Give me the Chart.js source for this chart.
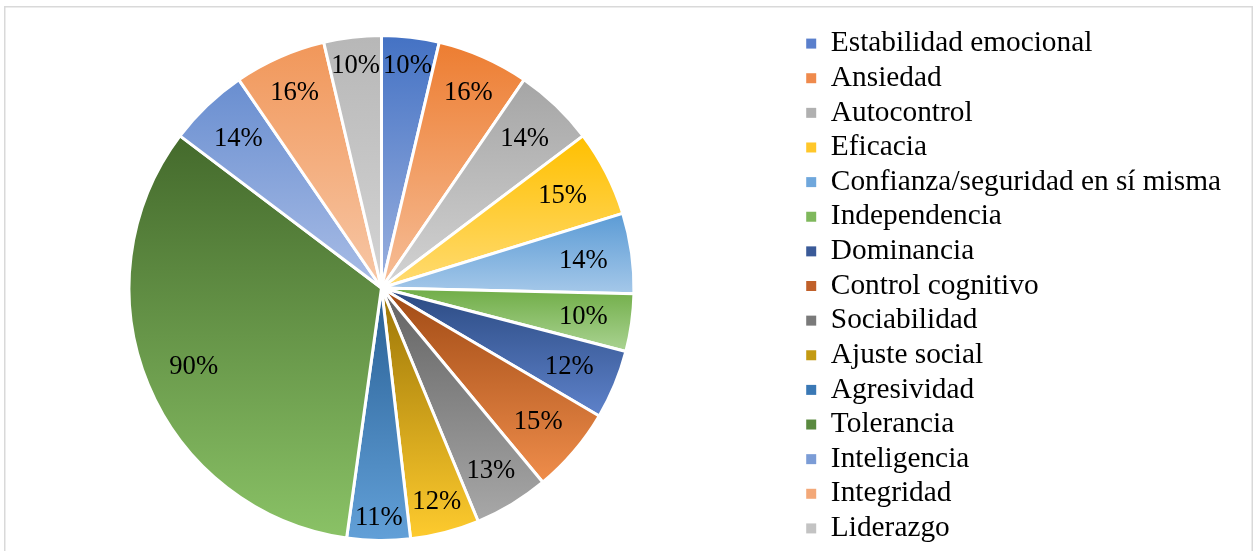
<!DOCTYPE html>
<html>
<head>
<meta charset="utf-8">
<script src="https://cdn.jsdelivr.net/npm/chart.js@4/dist/chart.umd.min.js"></script>
<style>
  html, body { margin: 0; padding: 0; background: #fff; }
  canvas { display: block; }
</style>
</head>
<body>
<canvas id="c" width="1253" height="551"></canvas>
<script>
// ---- data ----
const categories = [
  'Estabilidad emocional', 'Ansiedad', 'Autocontrol', 'Eficacia',
  'Confianza/seguridad en sí misma', 'Independencia', 'Dominancia',
  'Control cognitivo', 'Sociabilidad', 'Ajuste social', 'Agresividad',
  'Tolerancia', 'Inteligencia', 'Integridad', 'Liderazgo'
];
const percentages = [10, 16, 14, 15, 14, 10, 12, 15, 13, 12, 11, 90, 14, 16, 10];

// ---- colours (gradient top -> bottom, plus a mid tone) ----
const topColors = ['#4472C4', '#ED7D31', '#A5A5A5', '#FFC000', '#5B9BD5', '#70AD47', '#2B4A82',
  '#A04A14', '#626262', '#9A7406', '#285F94', '#446A2C', '#698ED0', '#F1975A', '#B7B7B7'];
const bottomColors = ['#9BB1DF', '#F6BE98', '#D3D3D3', '#FFDB72', '#A5C8E9', '#AAD392', '#5E82CA',
  '#EF8D4B', '#A8A8A8', '#FECB2E', '#62A0D8', '#8AC266', '#A9BDE6', '#F7C7A6', '#D4D4D4'];
const midColors = ['#5A7FCC', '#EF8A4C', '#B0B0B0', '#FFC72A', '#6FA7DC', '#7FB85C', '#3A5A98',
  '#C0602A', '#7A7A7A', '#C39A12', '#3A78B5', '#5A8A40', '#7B9CD6', '#F3A878', '#C3C3C3'];

const FONT = 'Liberation Serif, Times New Roman, serif';
const LABEL_SIZE = 26.67;
const LEGEND_SIZE = 29.33;

// frame around chart
const framePlugin = {
  id: 'frame',
  beforeDraw(chart) {
    const ctx = chart.ctx;
    ctx.save();
    ctx.strokeStyle = '#D9D9D9';
    ctx.lineWidth = 1.5;
    ctx.strokeRect(4.75, 6.75, 1247.5, 600);
    ctx.restore();
  }
};

// place the pie area (chart area) to the left of the legend
const pieAreaPlugin = {
  id: 'pieArea',
  afterLayout(chart) {
    const cx = 381.5, cy = 288, size = 508;
    Object.assign(chart.chartArea, {
      left: cx - size / 2, right: cx + size / 2,
      top: cy - size / 2, bottom: cy + size / 2,
      width: size, height: size
    });
  }
};

// per-slice vertical gradient spanning each slice's own bounding box
const gradientPlugin = {
  id: 'sliceGradient',
  beforeDatasetsDraw(chart) {
    const ctx = chart.ctx;
    const meta = chart.getDatasetMeta(0);
    meta.data.forEach((arc, i) => {
      const p = arc.getProps(['x', 'y', 'startAngle', 'endAngle', 'outerRadius'], true);
      let minY = p.y, maxY = p.y;
      const steps = 64;
      for (let k = 0; k <= steps; k++) {
        const a = p.startAngle + (p.endAngle - p.startAngle) * k / steps;
        const y = p.y + Math.sin(a) * p.outerRadius;
        minY = Math.min(minY, y);
        maxY = Math.max(maxY, y);
      }
      const g = ctx.createLinearGradient(0, minY, 0, maxY);
      g.addColorStop(0, topColors[i]);
      g.addColorStop(1, bottomColors[i]);
      arc.options.backgroundColor = g;
    });
    // legend boxes
    const lg = chart.legend;
    if (lg && lg.legendHitBoxes && lg.legendItems) {
      lg.legendHitBoxes.forEach((hb, i) => {
        const top = hb.top + (hb.height - 10) / 2;
        const g = ctx.createLinearGradient(0, top, 0, top + 10);
        g.addColorStop(0, topColors[i]);
        g.addColorStop(1, bottomColors[i]);
        if (lg.legendItems[i]) lg.legendItems[i].fillStyle = g;
      });
    }
  }
};

// percentage labels, "inside end" style
const labelPlugin = {
  id: 'pctLabels',
  afterDatasetsDraw(chart) {
    const ctx = chart.ctx;
    const meta = chart.getDatasetMeta(0);
    ctx.save();
    ctx.font = LABEL_SIZE + 'px ' + FONT;
    ctx.fillStyle = '#000';
    ctx.textAlign = 'center';
    ctx.textBaseline = 'alphabetic';
    meta.data.forEach((arc, i) => {
      const p = arc.getProps(['x', 'y', 'startAngle', 'endAngle', 'outerRadius'], true);
      const mid = (p.startAngle + p.endAngle) / 2;
      const ux = Math.cos(mid), uy = Math.sin(mid);
      const ax = Math.abs(ux), ay = Math.abs(uy);
      const R = p.outerRadius - 6, A = 41, B = 14;
      const qb = 2 * (ax * A + ay * B);
      const qc = A * A + B * B - R * R;
      const d = (-qb + Math.sqrt(qb * qb - 4 * qc)) / 2;
      const x = p.x + ux * d;
      const y = p.y + uy * d;
      ctx.fillText(percentages[i] + '%', x, y + LABEL_SIZE * 0.31);
    });
    ctx.restore();
  }
};

new Chart(document.getElementById('c'), {
  type: 'pie',
  data: {
    labels: categories,
    datasets: [{
      data: percentages,
      backgroundColor: midColors,
      borderColor: '#FFFFFF',
      borderWidth: 3
    }]
  },
  options: {
    responsive: false,
    animation: false,
    events: [],
    layout: { padding: { top: 21, right: 22, bottom: 0, left: 0 } },
    plugins: {
      tooltip: { enabled: false },
      legend: {
        position: 'right',
        align: 'center',
        labels: {
          boxWidth: 10,
          boxHeight: 10,
          padding: 5.3,
          color: '#000',
          font: { family: FONT, size: LEGEND_SIZE },
          generateLabels(chart) {
            return chart.data.labels.map((t, i) => ({
              text: t,
              fillStyle: midColors[i],
              strokeStyle: 'rgba(0,0,0,0)',
              lineWidth: 0,
              hidden: false,
              index: i
            }));
          }
        }
      }
    }
  },
  plugins: [framePlugin, pieAreaPlugin, gradientPlugin, labelPlugin]
});
</script>
</body>
</html>
